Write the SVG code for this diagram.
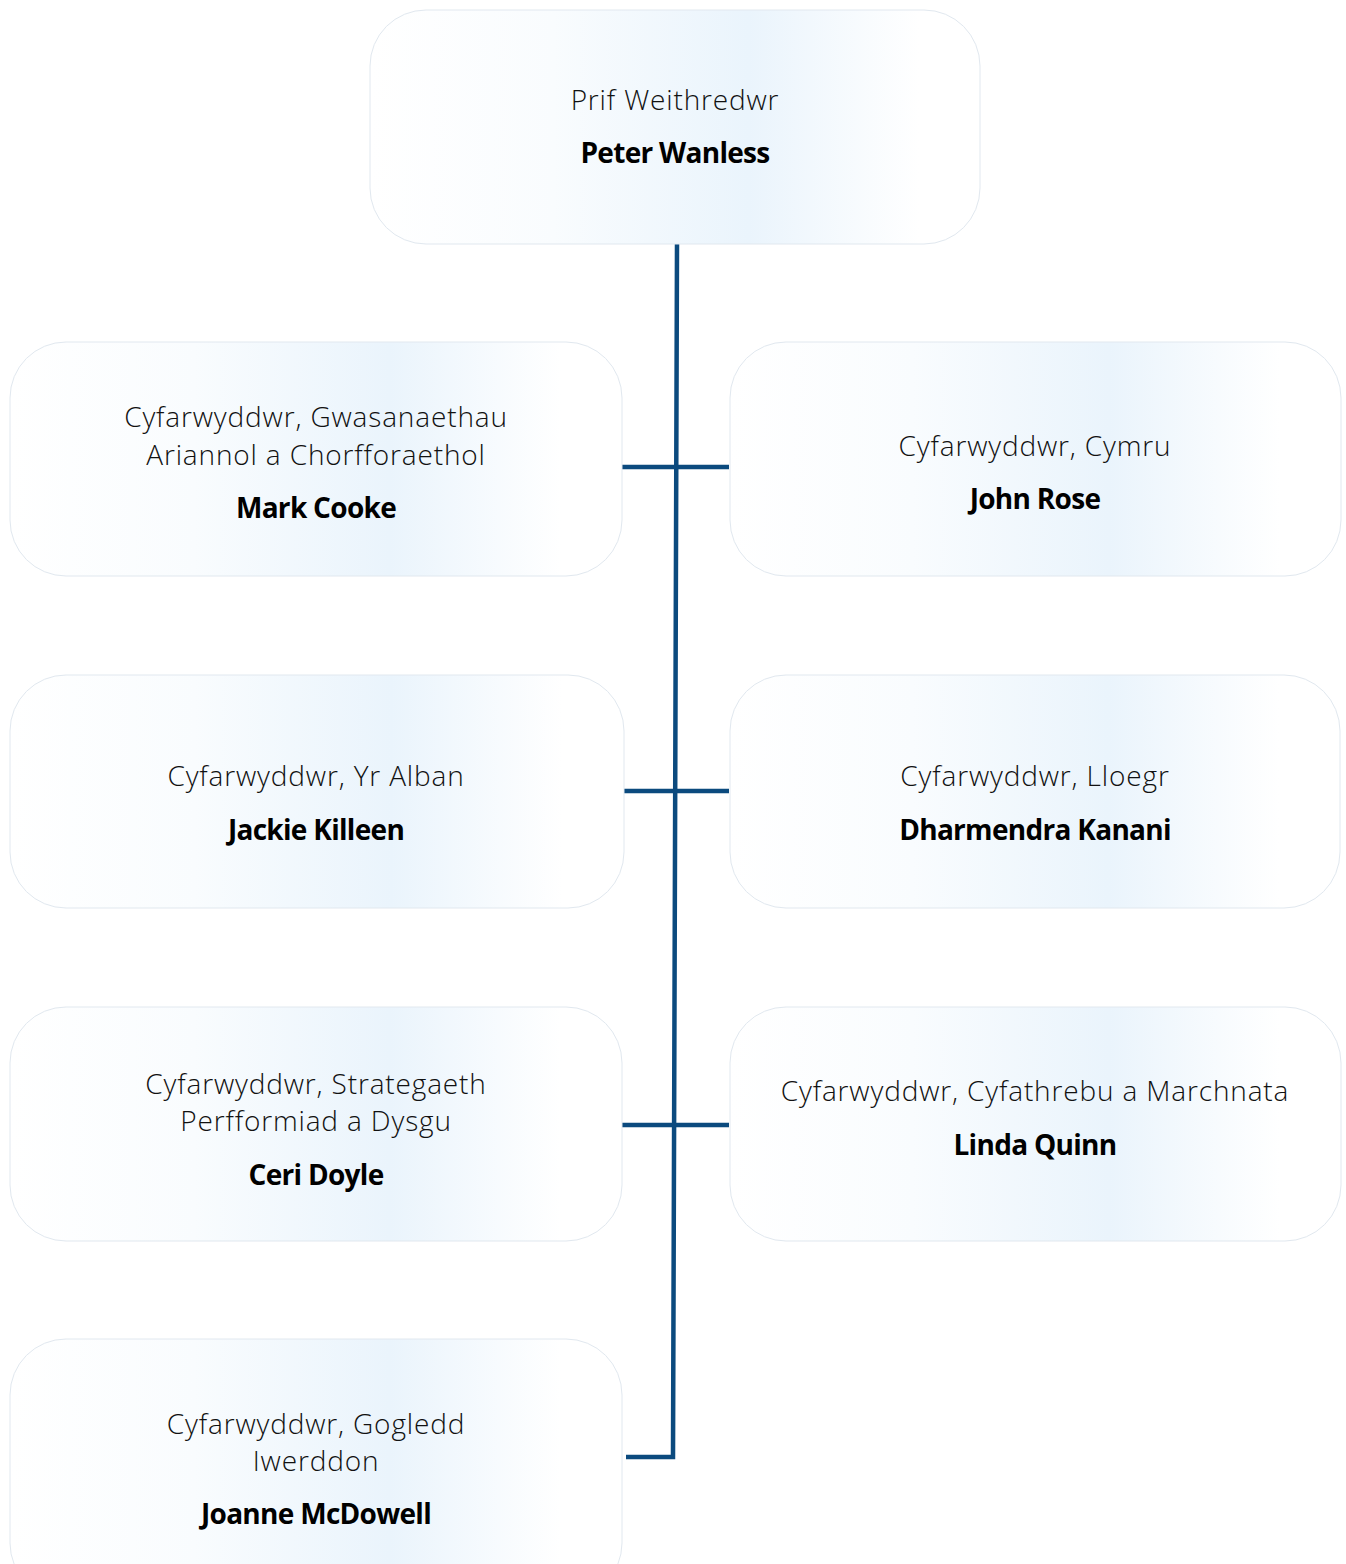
<svg xmlns="http://www.w3.org/2000/svg" width="1346" height="1564" viewBox="0 0 1346 1564">
<defs>
<linearGradient id="g" x1="0" y1="0" x2="1" y2="0">
<stop offset="0" stop-color="#ffffff"/>
<stop offset="0.3" stop-color="#f9fcfe"/>
<stop offset="0.62" stop-color="#eaf4fc"/>
<stop offset="0.9" stop-color="#ffffff"/>
<stop offset="1" stop-color="#ffffff"/>
</linearGradient>
</defs>
<style>
.box{fill:url(#g);stroke:#e1e8ef;stroke-width:1}
.t{font-family:"Open Sans","Noto Sans","Liberation Sans",sans-serif;font-weight:300;font-size:28px;fill:#111;text-anchor:middle;letter-spacing:0.85px}
.n{font-family:"Open Sans","Noto Sans","Liberation Sans",sans-serif;font-weight:700;font-size:28px;fill:#000;text-anchor:middle;letter-spacing:-0.7px}
.c{fill:none;stroke:#0b4a7e;stroke-width:4.5}
</style>
<rect width="1346" height="1564" fill="#fff"/>
<g id="connectors">
<polyline class="c" points="677,244 673,1457 626,1457"/>
<line class="c" x1="622" y1="467" x2="729" y2="467"/>
<line class="c" x1="622" y1="791" x2="729" y2="791"/>
<line class="c" x1="622" y1="1125" x2="729" y2="1125"/>
</g>
<g id="n-ceo">
<rect class="box" x="370" y="10" width="610" height="234" rx="56"/>
<text class="t" x="675" y="110">Prif Weithredwr</text>
<text class="n" x="675" y="163">Peter Wanless</text>
</g>
<g id="n-cooke">
<rect class="box" x="10" y="342" width="612" height="234" rx="56"/>
<text class="t" x="316" y="427">Cyfarwyddwr, Gwasanaethau</text>
<text class="t" x="316" y="465">Ariannol a Chorfforaethol</text>
<text class="n" x="316" y="518">Mark Cooke</text>
</g>
<g id="n-rose">
<rect class="box" x="730" y="342" width="611" height="234" rx="56"/>
<text class="t" x="1035" y="456">Cyfarwyddwr, Cymru</text>
<text class="n" x="1035" y="509">John Rose</text>
</g>
<g id="n-killeen">
<rect class="box" x="10" y="675" width="614" height="233" rx="56"/>
<text class="t" x="316" y="786">Cyfarwyddwr, Yr Alban</text>
<text class="n" x="316" y="840">Jackie Killeen</text>
</g>
<g id="n-kanani">
<rect class="box" x="730" y="675" width="610" height="233" rx="56"/>
<text class="t" x="1035" y="786">Cyfarwyddwr, Lloegr</text>
<text class="n" x="1035" y="840">Dharmendra Kanani</text>
</g>
<g id="n-doyle">
<rect class="box" x="10" y="1007" width="612" height="234" rx="56"/>
<text class="t" x="316" y="1094">Cyfarwyddwr, Strategaeth</text>
<text class="t" x="316" y="1131">Perfformiad a Dysgu</text>
<text class="n" x="316" y="1185">Ceri Doyle</text>
</g>
<g id="n-quinn">
<rect class="box" x="730" y="1007" width="611" height="234" rx="56"/>
<text class="t" x="1035" y="1101">Cyfarwyddwr, Cyfathrebu a Marchnata</text>
<text class="n" x="1035" y="1155">Linda Quinn</text>
</g>
<g id="n-mcdowell">
<rect class="box" x="10" y="1339" width="612" height="260" rx="56"/>
<text class="t" x="316" y="1434">Cyfarwyddwr, Gogledd</text>
<text class="t" x="316" y="1471">Iwerddon</text>
<text class="n" x="316" y="1524">Joanne McDowell</text>
</g>
</svg>
